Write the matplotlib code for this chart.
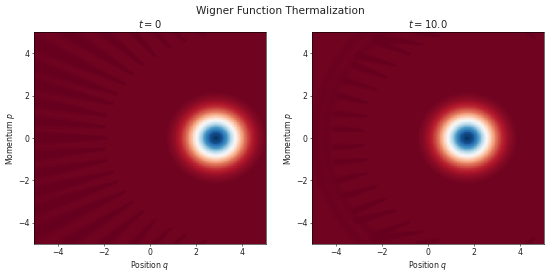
import numpy as np
from matplotlib import pyplot as plt

suptitle = 'Wigner Function Thermalization'
titles = ['$t = 0$', '$t = 10.0$']
centers = [2.85, 1.7]  # blob position on q axis

# radial profile of the blob, 0 is dark red and 1 dark blue
radius = [0, 0.25, 0.5, 0.75, 1.0, 1.25, 1.5, 1.75, 2.0, 2.2]
level = [1.0, 0.94, 0.78, 0.57, 0.38, 0.23, 0.125, 0.065, 0.03, 0.012]

# faint fringes as (q tip, p tip, q end, p end), upper half, mirrored below
streaks_left = [
    (-1.9, 0.0, -5.0, 0.0), (-1.98, 0.52, -5.0, 0.83), (-1.9, 1.07, -5.0, 1.7),
    (-1.62, 1.62, -5.0, 2.56), (-1.48, 2.09, -5.0, 3.43), (-1.12, 2.56, -5.0, 4.5),
    (-0.76, 3.03, -3.6, 5.0), (-0.34, 3.49, -2.0, 5.0), (0.2, 3.9, -0.7, 5.0),
    (0.86, 4.3, 0.2, 5.0), (1.5, 4.6, 1.1, 5.0), (2.4, 4.9, 2.1, 5.0),
]
streaks_right = [
    (-2.84, 0.36, -4.0, 0.44), (-2.7, 1.04, -3.95, 1.15), (-2.65, 1.67, -3.85, 2.0),
    (-2.27, 2.3, -3.56, 2.72), (-1.84, 2.88, -3.13, 3.43), (-1.41, 3.43, -3.0, 3.9),
    (-0.83, 3.98, -2.27, 4.6), (-0.29, 4.45, -2.3, 4.75), (0.43, 4.84, -0.43, 5.0),
    (4.6, 4.75, 4.3, 5.0),
]
# arcs on the right panel as (q centre, q radius, p radius)
arcs_right = [(1.7, 6.13, 6.1), (1.7, 6.56, 6.9)]

q = np.linspace(-5, 5, 300)
p = np.linspace(-5, 5, 300)
Q, P = np.meshgrid(q, p)


def add_streaks(field, streaks):
    for q0, p0, q1, p1 in streaks:
        for sign in (1, -1):
            dq, dp = q1 - q0, sign * (p1 - p0)
            length = np.hypot(dq, dp)
            s = ((Q - q0) * dq + (P - sign * p0) * dp) / length ** 2
            s_clip = np.clip(s, 0, 1)
            dist = np.hypot(Q - q0 - s_clip * dq, P - sign * p0 - s_clip * dp)
            halfwidth = 0.07 + 0.07 * s_clip * length
            field = field * (1 - 0.85 * np.exp(-(dist / halfwidth) ** 4))
    return field


def make_field(center, streaks, arcs):
    r = np.hypot(Q - center, P)
    field = np.interp(r, radius, level)
    field = add_streaks(field, streaks)
    for q0, a, b in arcs:
        e = np.hypot((Q - q0) / a, P / b)
        band = np.exp(-((e - 1) / 0.02) ** 2)
        field = field * (1 - 0.6 * band * (Q < q0))
    return field


fields = [make_field(centers[0], streaks_left, []),
          make_field(centers[1], streaks_right, arcs_right)]

fig, axes = plt.subplots(1, 2, figsize=(5.5, 2.75), dpi=100)
for ax, field, title in zip(axes, fields, titles):
    ax.pcolormesh(Q, P, field, cmap='RdBu', vmin=0, vmax=1, shading='auto')
    ax.set_title(title, fontsize=7.2, pad=3, color='#222222')
    ax.set_xlabel('Position $q$', fontsize=5.6, labelpad=1.5, color='#222222')
    ax.set_ylabel('Momentum $p$', fontsize=5.6, labelpad=1, color='#222222')
    ax.tick_params(labelsize=5.6, length=1.6, width=0.4, pad=1.5, labelcolor='#222222')
    ax.set_xticks([-4, -2, 0, 2, 4])
    ax.set_yticks([-4, -2, 0, 2, 4])
    for spine in ax.spines.values():
        spine.set_linewidth(0.4)

axes[0].set_position([34 / 550, 1 - 244 / 275, 232 / 550, 212 / 275])
axes[1].set_position([312 / 550, 1 - 244 / 275, 232 / 550, 212 / 275])
fig.suptitle(suptitle, fontsize=7.6, y=0.98, x=0.51, color='#222222')
fig.savefig('out.png', dpi=100)
